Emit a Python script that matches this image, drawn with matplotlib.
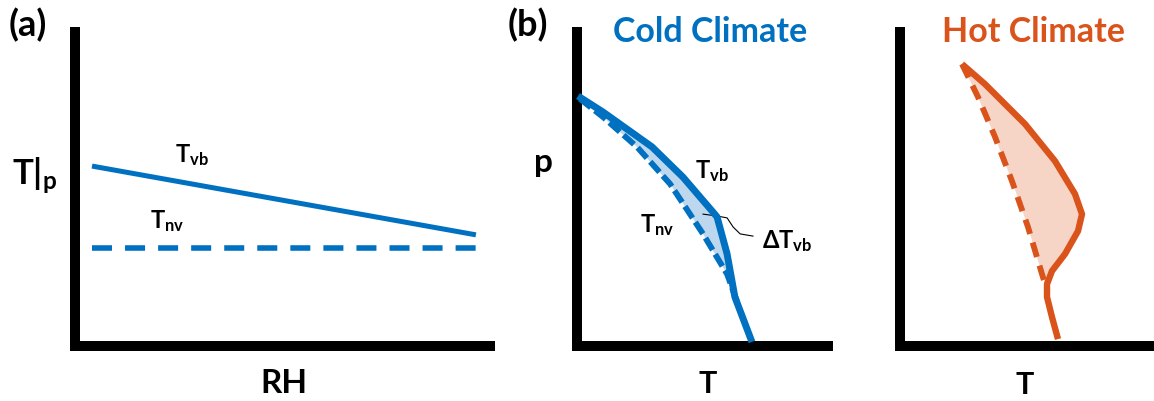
import numpy as np
import matplotlib
matplotlib.use("Agg")
import matplotlib.pyplot as plt

plt.rcParams['font.family'] = ['Lato', 'DejaVu Sans']
plt.rcParams['font.weight'] = 'bold'
plt.rcParams['mathtext.fontset'] = 'custom'
plt.rcParams['mathtext.rm'] = 'Lato:bold'
plt.rcParams['mathtext.bf'] = 'Lato:bold'
plt.rcParams['mathtext.it'] = 'Lato:bold'
plt.rcParams['lines.scale_dashes'] = False

BLUE = '#0070C0'
BLUE_FILL = '#BDD7EE'
ORANGE = '#D9531A'
ORANGE_FILL = '#F6D5C7'

# --- schematic data (normalised axis units 0..1) ---
# (a) T at fixed p vs RH
rh = [0.041, 0.966]
t_vb_a = [0.573, 0.354]
t_nv_a = [0.312, 0.312]

# (b) cold climate: p vs T
cold_vb_T = [0.004, 0.104, 0.299, 0.422, 0.538, 0.558, 0.598, 0.629, 0.697]
cold_vb_p = [0.796, 0.745, 0.634, 0.538, 0.430, 0.411, 0.293, 0.156, 0.013]
cold_nv_T = [0.012, 0.104, 0.239, 0.371, 0.502, 0.598, 0.637]
cold_nv_p = [0.787, 0.729, 0.634, 0.516, 0.357, 0.229, 0.143]
leader_T = [0.502, 0.558, 0.598, 0.622, 0.650, 0.701]
leader_p = [0.420, 0.414, 0.408, 0.379, 0.357, 0.350]

# (b) hot climate: p vs T
hot_vb_T = [0.248, 0.340, 0.500, 0.620, 0.700, 0.728, 0.712, 0.660, 0.608, 0.588, 0.588, 0.608, 0.632]
hot_vb_p = [0.898, 0.834, 0.707, 0.589, 0.484, 0.420, 0.366, 0.293, 0.239, 0.197, 0.156, 0.092, 0.022]
hot_nv_T = [0.248, 0.312, 0.380, 0.448, 0.512, 0.568, 0.584]
hot_nv_p = [0.898, 0.793, 0.666, 0.525, 0.379, 0.229, 0.188]

W, H = 1154, 402
fig = plt.figure(figsize=(W / 100, H / 100), dpi=100)


def make_axes(x0, x1, y_bottom, y_top):
    ax = fig.add_axes([x0 / W, 1 - y_bottom / H, (x1 - x0) / W, (y_bottom - y_top) / H])
    ax.set_xlim(0, 1)
    ax.set_ylim(0, 1)
    ax.set_xticks([])
    ax.set_yticks([])
    ax.patch.set_alpha(0)
    for s in ['top', 'right']:
        ax.spines[s].set_visible(False)
    for s in ['left', 'bottom']:
        ax.spines[s].set_linewidth(7.2)
        ax.spines[s].set_color('black')
        ax.spines[s].set_capstyle('projecting')
    return ax


def ftext(x, y, s, **kw):
    fig.text(x / W, 1 - y / H, s, **kw)


# (a)
ax1 = make_axes(75, 490, 347, 33)
ax1.plot(rh, t_vb_a, color=BLUE, lw=3.6, solid_capstyle='butt')
ax1.plot(rh, t_nv_a, color=BLUE, lw=4.0, dashes=(14.4, 9.4))

# (b) cold
ax2 = make_axes(577, 828, 347, 33)
n = len(cold_vb_T) - 1
poly_T = list(cold_vb_T[:n]) + list(cold_nv_T[::-1])
poly_p = list(cold_vb_p[:n]) + list(cold_nv_p[::-1])
ax2.fill(poly_T, poly_p, color=BLUE_FILL, lw=0, zorder=1)
ax2.plot(leader_T, leader_p, color='black', lw=0.8, zorder=2)
ax2.plot(cold_nv_T, cold_nv_p, color=BLUE, lw=4.2, dashes=(10, 3.6), zorder=3)
ax2.plot(cold_vb_T, cold_vb_p, color=BLUE, lw=5.0, solid_joinstyle='round',
         solid_capstyle='butt', zorder=4, clip_on=False)

# (b) hot
ax3 = make_axes(900, 1150, 347, 33)
m = len(hot_vb_T) - 3
poly_T = list(hot_vb_T[:m]) + list(hot_nv_T[::-1])
poly_p = list(hot_vb_p[:m]) + list(hot_nv_p[::-1])
ax3.fill(poly_T, poly_p, color=ORANGE_FILL, lw=0, zorder=1)
ax3.plot(hot_nv_T, hot_nv_p, color=ORANGE, lw=4.2, dashes=(10.8, 6.5), zorder=3)
ax3.plot(hot_vb_T, hot_vb_p, color=ORANGE, lw=4.6, solid_joinstyle='round',
         solid_capstyle='butt', zorder=4)

# texts
ftext(9, 25, '(a)', fontsize=26, va='center', ha='left')
ftext(508, 25, '(b)', fontsize=26, va='center', ha='left')
ftext(12, 185, r'$\mathbf{T}|_{\mathbf{p}}$', fontsize=25, va='baseline', ha='left')
ftext(284, 393, 'RH', fontsize=24, va='baseline', ha='center')
ftext(708, 393, 'T', fontsize=22, va='baseline', ha='center')
ftext(1025, 394, 'T', fontsize=22, va='baseline', ha='center')
ftext(543, 172, 'p', fontsize=24, va='baseline', ha='center')
ftext(175, 162, r'$\mathbf{T_{vb}}$', fontsize=17, va='baseline', ha='left')
ftext(150, 228, r'$\mathbf{T_{nv}}$', fontsize=17, va='baseline', ha='left')
ftext(695, 178, r'$\mathbf{T_{vb}}$', fontsize=17, va='baseline', ha='left')
ftext(640, 232, r'$\mathbf{T_{nv}}$', fontsize=17, va='baseline', ha='left')
ftext(762, 248, r'$\mathbf{\Delta T_{vb}}$', fontsize=17, va='baseline', ha='left')
ftext(710, 42, 'Cold Climate', fontsize=24.5, va='baseline', ha='center', color=BLUE)
ftext(1033, 42, 'Hot Climate', fontsize=24.5, va='baseline', ha='center', color=ORANGE)

fig.savefig('out.png', dpi=100)
